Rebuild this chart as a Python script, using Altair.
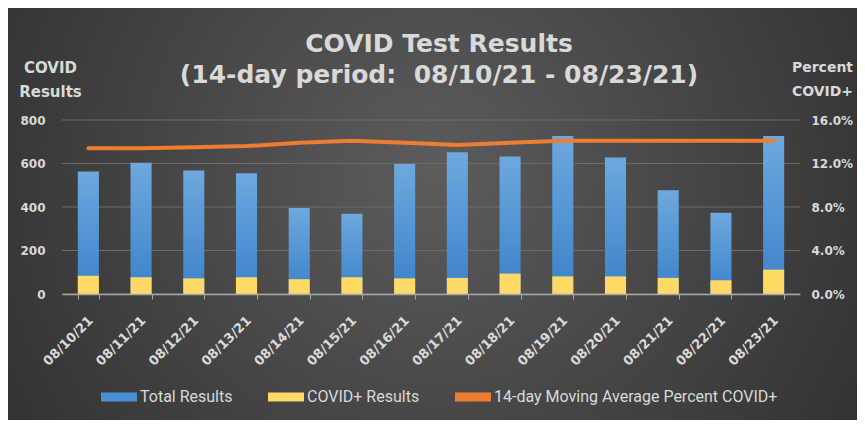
import altair as alt
import pandas as pd

# ---------------- data ----------------
dates = ["08/10/21", "08/11/21", "08/12/21", "08/13/21", "08/14/21", "08/15/21", "08/16/21",
         "08/17/21", "08/18/21", "08/19/21", "08/20/21", "08/21/21", "08/22/21", "08/23/21"]
total_results = [563, 603, 568, 555, 395, 369, 598, 652, 632, 726, 628, 477, 374, 726]
positive_results = [84, 77, 72, 77, 68, 77, 72, 74, 94, 81, 81, 74, 63, 112]
moving_avg_pct = [0.134, 0.134, 0.135, 0.136, 0.139, 0.141, 0.139, 0.137, 0.139, 0.141,
                  0.141, 0.141, 0.141, 0.141]
left_ticks = [0, 200, 400, 600, 800]
right_ticks = [0.0, 0.04, 0.08, 0.12, 0.16]
series_names = ["Total Results", "COVID+ Results", "14-day Moving Average Percent COVID+"]
series_colors = ["#4a8fd6", "#ffd966", "#ed7d31"]

df = pd.DataFrame({"date": dates, "total": total_results,
                   "positive": positive_results, "pct": moving_avg_pct})
grid_df = pd.DataFrame({"tick": left_ticks})
bg_df = pd.DataFrame({"a": [0]})

FONT = "DejaVu Sans"
LEG_FONT = "Roboto"
TXT = "#d9d9d9"
W, H = 738, 174
PAD = {"left": 54, "top": 112, "right": 57, "bottom": 126}

x_enc = alt.X(
    "date:N", sort=dates,
    scale=alt.Scale(paddingInner=0.6, paddingOuter=0.3),
    axis=alt.Axis(title=None, labelAngle=315, labelAlign="right", labelBaseline="middle",
                  labelFont=FONT, labelFontSize=13, labelFontWeight="bold", labelColor=TXT,
                  tickBand="extent", ticks=True, tickColor="#a6a6a6", tickSize=5,
                  domainColor="#a6a6a6", domainWidth=1.5, labelPadding=19, labelOffset=2,
                  zindex=1),
)

# background with radial gradient
bg = alt.Chart(bg_df).mark_rect(
    fill=alt.RadialGradient(
        gradient="radial",
        stops=[alt.GradientStop(color="#5c5c5c", offset=0),
               alt.GradientStop(color="#262626", offset=1)],
        x1=0.5, y1=0.45, r1=0, x2=0.5, y2=0.45, r2=0.75),
).encode(x=alt.value(-PAD["left"]), x2=alt.value(W + PAD["right"]),
         y=alt.value(-PAD["top"]), y2=alt.value(H + PAD["bottom"]))

y_left_scale = alt.Scale(domain=[0, 800], nice=False)
y_left_axis = alt.Axis(values=left_ticks, grid=False, ticks=False, domain=False,
                       labelFont=FONT, labelFontSize=12, labelFontWeight="bold",
                       labelColor=TXT, labelPadding=17, zindex=1,
                       title=["COVID", "Results"], titleAngle=0, titleAlign="center",
                       titleBaseline="alphabetic", titleX=-12, titleY=-48,
                       titleFont=FONT, titleFontSize=15, titleFontWeight="bold",
                       titleColor=TXT, titleLineHeight=24)

grid = alt.Chart(grid_df).mark_rule(color="#6c6c6c", strokeWidth=1).encode(
    y=alt.Y("tick:Q", scale=y_left_scale, axis=y_left_axis)
)

blue = alt.Chart(df).mark_bar(
    fill=alt.LinearGradient(
        gradient="linear",
        stops=[alt.GradientStop(color="#6ea8de", offset=0),
               alt.GradientStop(color="#3b82c9", offset=1)],
        x1=0, x2=0, y1=0, y2=1),
).encode(
    x=x_enc,
    y=alt.Y("total:Q", scale=y_left_scale, axis=y_left_axis),
)

yellow = alt.Chart(df).transform_calculate(series="'COVID+ Results'").mark_bar().encode(
    x=x_enc,
    y=alt.Y("positive:Q", scale=y_left_scale, axis=y_left_axis),
    color=alt.Color("series:N",
                    scale=alt.Scale(domain=series_names, range=series_colors),
                    legend=alt.Legend(title=None, orient="none", legendX=48, legendY=268,
                                      direction="horizontal",
                                      symbolType="M-2,-0.5H2V0.5H-2Z", symbolSize=324,
                                      symbolStrokeWidth=0, symbolOpacity=1,
                                      labelFont=LEG_FONT, labelFontSize=16, labelColor=TXT,
                                      labelOffset=12, columnPadding=35, labelLimit=400,
                                      zindex=1)),
)

left = alt.layer(grid, blue, yellow)

line = alt.Chart(df).mark_line(color="#ed7d31", strokeWidth=4, strokeCap="round",
                               strokeJoin="round").encode(
    x=x_enc,
    y=alt.Y("pct:Q", scale=alt.Scale(domain=[0, 0.16], nice=False),
            axis=alt.Axis(orient="right", values=right_ticks, format=".1%", grid=False,
                          ticks=False, domain=False, labelFont=FONT, labelFontSize=12,
                          labelFontWeight="bold", labelColor=TXT, labelPadding=11, zindex=1,
                          title=["Percent", "COVID+"], titleAngle=0, titleAlign="center",
                          titleBaseline="alphabetic", titleX=22, titleY=-49,
                          titleFont=FONT, titleFontSize=14, titleFontWeight="bold",
                          titleColor=TXT, titleLineHeight=24)),
)

chart = alt.layer(bg, left, line).resolve_scale(y="independent").properties(
    width=W, height=H,
    autosize=alt.AutoSizeParams(type="none"),
    padding=PAD,
    background="#333333",
    title=alt.TitleParams(
        text=["COVID Test Results", "(14-day period:\u00a0 08/10/21 - 08/23/21)"],
        font=FONT, fontSize=25, fontWeight="bold", color=TXT, lineHeight=31,
        anchor="middle", offset=8, dx=8, dy=88, zindex=1),
).configure_view(stroke="transparent")

chart.save("out.html", embed_options={"renderer": "svg", "actions": False})
